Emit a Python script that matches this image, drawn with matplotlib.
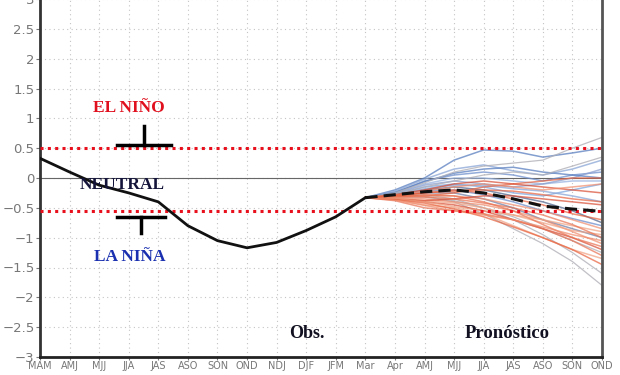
import matplotlib
matplotlib.use("Agg")
import matplotlib.pyplot as plt
import numpy as np

# Etiquetas del eje x (trimestres)
meses = ["MAM", "AMJ", "MJJ", "JJA", "JAS", "ASO", "SON", "OND", "NDJ", "DJF",
         "JFM", "Mar", "Apr", "AMJ", "MJJ", "JJA", "JAS", "ASO", "SON", "OND"]

# Valores observados (MAM .. Mar)
obs = [0.33, 0.10, -0.12, -0.25, -0.40, -0.80, -1.05, -1.17, -1.08, -0.88, -0.65, -0.33]

# Promedio del pronostico (Mar .. OND)
prom = [-0.33, -0.28, -0.23, -0.20, -0.25, -0.35, -0.47, -0.52, -0.56]

# Miembros del ensamble (Mar .. OND)
azules = [
    [-0.33, -0.20, 0.00, 0.30, 0.47, 0.45, 0.35, 0.42, 0.50],
    [-0.33, -0.22, -0.02, 0.15, 0.22, 0.12, 0.05, 0.15, 0.30],
    [-0.33, -0.25, -0.05, 0.05, 0.10, 0.05, -0.05, 0.05, 0.10],
    [-0.33, -0.25, -0.10, 0.00, 0.00, -0.05, -0.10, -0.05, -0.05],
    [-0.33, -0.27, -0.15, -0.10, -0.15, -0.25, -0.30, -0.20, -0.10],
    [-0.33, -0.28, -0.20, -0.15, -0.20, -0.30, -0.40, -0.55, -0.75],
    [-0.33, -0.30, -0.25, -0.25, -0.35, -0.50, -0.70, -0.85, -1.00],
    [-0.33, -0.26, -0.12, -0.05, -0.10, -0.15, -0.10, 0.00, 0.15],
    [-0.33, -0.24, -0.06, 0.08, 0.15, 0.18, 0.10, 0.05, 0.00],
    [-0.33, -0.27, -0.18, -0.12, -0.12, -0.18, -0.22, -0.30, -0.40],
    [-0.33, -0.29, -0.22, -0.20, -0.28, -0.40, -0.55, -0.68, -0.80],
]
grises = [
    [-0.33, -0.25, -0.08, 0.10, 0.20, 0.25, 0.30, 0.50, 0.68],
    [-0.33, -0.30, -0.28, -0.35, -0.50, -0.70, -0.95, -1.25, -1.60],
    [-0.33, -0.30, -0.30, -0.40, -0.60, -0.85, -1.10, -1.40, -1.80],
    [-0.33, -0.27, -0.15, -0.05, 0.05, 0.10, 0.05, 0.20, 0.35],
    [-0.33, -0.32, -0.32, -0.38, -0.50, -0.65, -0.85, -1.05, -1.25],
]
rojos = [
    [-0.33, -0.30, -0.30, -0.25, -0.15, -0.10, -0.05, 0.00, 0.00],
    [-0.33, -0.33, -0.35, -0.40, -0.45, -0.55, -0.70, -0.90, -1.10],
    [-0.33, -0.35, -0.40, -0.45, -0.55, -0.70, -0.85, -1.00, -1.20],
    [-0.33, -0.36, -0.45, -0.50, -0.60, -0.80, -1.00, -1.20, -1.35],
    [-0.33, -0.38, -0.50, -0.55, -0.60, -0.70, -0.85, -1.05, -1.30],
    [-0.33, -0.30, -0.25, -0.20, -0.25, -0.35, -0.45, -0.60, -0.70],
    [-0.33, -0.32, -0.30, -0.30, -0.35, -0.45, -0.55, -0.70, -0.85],
    [-0.33, -0.28, -0.20, -0.10, -0.05, -0.10, -0.15, -0.20, -0.25],
    [-0.33, -0.34, -0.38, -0.42, -0.50, -0.62, -0.75, -0.88, -0.95],
    [-0.33, -0.31, -0.28, -0.30, -0.40, -0.55, -0.78, -1.00, -1.15],
    [-0.33, -0.36, -0.42, -0.52, -0.65, -0.82, -1.00, -1.20, -1.45],
    [-0.33, -0.29, -0.22, -0.15, -0.10, -0.15, -0.20, -0.15, -0.10],
    [-0.33, -0.35, -0.38, -0.35, -0.30, -0.30, -0.35, -0.40, -0.45],
    [-0.33, -0.34, -0.40, -0.48, -0.55, -0.62, -0.70, -0.80, -0.90],
    [-0.33, -0.31, -0.32, -0.35, -0.42, -0.50, -0.62, -0.78, -1.00],
    [-0.33, -0.29, -0.25, -0.22, -0.20, -0.22, -0.28, -0.35, -0.40],
    [-0.33, -0.37, -0.46, -0.55, -0.62, -0.70, -0.82, -0.95, -1.05],
]

umbral_nino = 0.5
umbral_nina = -0.55

x_obs = np.arange(len(obs))
x_pron = np.arange(len(obs) - 1, len(meses))

fig = plt.figure(figsize=(6.2, 3.75), dpi=100)
ax = fig.add_axes([40 / 620, 18 / 375, 562 / 620, 358 / 375])

# Rejilla punteada
for xi in range(len(meses)):
    ax.axvline(xi, color="#c4c4c4", lw=0.8, ls=(0, (1, 3)), zorder=0)
for yi in np.arange(-3, 3.01, 0.5):
    ax.axhline(yi, color="#c4c4c4", lw=0.8, ls=(0, (1, 3)), zorder=0)
ax.axhline(0, color="#666666", lw=0.8, zorder=1)

# Ensamble
col_az = ["#5a7fc0", "#8aa6d6", "#6f8fcc", "#9ab4e0", "#7fa8e0", "#56698f", "#7080a8", "#8ca0d0"]
for i, m in enumerate(azules):
    ax.plot(x_pron, m, color=col_az[i % len(col_az)], lw=1.1, alpha=0.75, zorder=2)
for m in grises:
    ax.plot(x_pron, m, color="#b0b0b8", lw=0.9, alpha=0.8, zorder=2)
col_ro = ["#e8603c", "#f08a6a", "#d84a30", "#f0a080", "#e87050"]
for i, m in enumerate(rojos):
    ax.plot(x_pron, m, color=col_ro[i % len(col_ro)], lw=1.1, alpha=0.7, zorder=2)

# Umbrales
ax.axhline(umbral_nino, color="#e8101c", lw=2.2, ls=(0, (1, 1.4)), zorder=3)
ax.axhline(umbral_nina, color="#e8101c", lw=2.2, ls=(0, (1, 1.4)), zorder=3)

# Observado y promedio
ax.plot(x_obs, obs, color="#111111", lw=2.0, zorder=4)
ax.plot(x_pron, prom, color="#111111", lw=2.2, ls=(0, (4, 2)), zorder=4)

# Marcas en T
ax.plot([2.6, 4.43], [0.55, 0.55], color="black", lw=2.5, zorder=5)
ax.plot([3.52, 3.52], [0.55, 0.87], color="black", lw=2.5, zorder=5)
ax.plot([2.6, 4.23], [-0.65, -0.65], color="black", lw=2.5, zorder=5)
ax.plot([3.41, 3.41], [-0.65, -0.92], color="black", lw=2.5, zorder=5)

serif = "Liberation Serif"
ax.text(2.99, 1.18, "EL NIÑO", color="#e0101e", fontsize=12.5, fontweight="bold",
        family=serif, ha="center", va="center", zorder=6)
ax.text(2.77, -0.12, "NEUTRAL", color="#14143a", fontsize=12.5, fontweight="bold",
        family=serif, ha="center", va="center", zorder=6)
ax.text(3.05, -1.33, "LA NIÑA", color="#1a30b0", fontsize=12.5, fontweight="bold",
        family=serif, ha="center", va="center", zorder=6)
ax.text(9.03, -2.6, "Obs.", color="#111122", fontsize=13, fontweight="bold",
        family=serif, ha="center", va="center", zorder=6)
ax.text(15.8, -2.6, "Pronóstico", color="#111122", fontsize=13.5, fontweight="bold",
        family=serif, ha="center", va="center", zorder=6)

ax.set_xlim(0, len(meses) - 1)
ax.set_ylim(-3, 3)
ax.set_xticks(range(len(meses)))
ax.set_xticklabels(meses)
ax.set_yticks(np.arange(-3, 3.01, 0.5))
ax.set_yticklabels([f"{v:g}".replace("-", "\u2212") for v in np.arange(-3, 3.01, 0.5)])
ax.tick_params(axis="x", labelsize=7, colors="#777777", length=2, pad=1)
ax.tick_params(axis="y", labelsize=9.5, colors="#777777", length=3, pad=1)

ax.spines["left"].set_linewidth(2)
ax.spines["left"].set_color("#333333")
ax.spines["bottom"].set_linewidth(2)
ax.spines["bottom"].set_color("#222222")
ax.spines["right"].set_linewidth(2)
ax.spines["right"].set_color("#555555")
ax.spines["top"].set_visible(False)

fig.savefig("out.png", dpi=100)
